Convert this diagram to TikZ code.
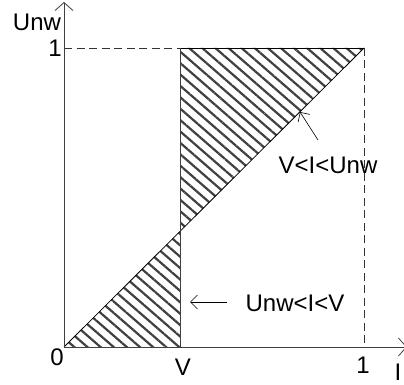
\documentclass[tikz,border=0pt]{standalone}
\usepackage{fontspec}
\setmainfont{Liberation Sans}
\usetikzlibrary{arrows.meta,patterns.meta}
\begin{document}
\begin{tikzpicture}[x=1pt,y=1pt,
  axis/.style={line width=0.8pt,draw=black!75},
  dashline/.style={line width=0.8pt,draw=black!80,dash pattern=on 8pt off 4.5pt},
  hatch/.style={pattern={Lines[angle=-41,distance=8.6pt,line width=2.2pt]},pattern color=black!75},
  lbl/.style={font=\fontsize{24}{28}\selectfont,inner sep=0pt},
  tip/.style={-{Straight Barb[length=7pt,width=14pt]}},
  axtip/.style={-{Straight Barb[length=8pt,width=18pt]}}]
\useasboundingbox (0,0) rectangle (404,385);
% key points
\coordinate (O) at (64,38);
\coordinate (Ytop) at (64,383);
\coordinate (Xend) at (407,38);
\coordinate (P1) at (364,337);
\coordinate (Y1) at (64,337);
\coordinate (X1) at (364,38);
\coordinate (Vb) at (180,38);
\coordinate (Vm) at (180,153.6);
\coordinate (Vt) at (180,337);
% hatched regions
\path[hatch] (O) -- (Vb) -- (Vm) -- cycle;
\path[hatch] (Vm) -- (Vt) -- (P1) -- cycle;
% dashed guides
\draw[dashline] (Y1) -- (Vt);
\draw[line width=0.8pt] (Vt) -- (P1);
\draw[dashline] (P1) -- (X1);
% solid lines
\draw[line width=0.8pt] (O) -- (P1);
\draw[axis] (Vb) -- (Vt);
% axes
\draw[axis,axtip] (O) -- (Ytop);
\draw[axis,axtip] (O) -- (Xend);
% labels
\node[lbl] (unw) at (37,363) {Unw};
\node[lbl,anchor=east] (one_y) at (62,337) {1};
\node[lbl] (zero) at (57,28) {0};
\node[lbl] (vlab) at (183,18) {V};
\node[lbl] (one_x) at (363,20) {1};
\node[lbl] (ilab) at (398,13) {I};
\node[lbl] (upper) at (328,220) {V<I<Unw};
\node[lbl] (lower) at (295,82) {Unw<I<V};
% pointer arrows
\coordinate (a1s) at (318,245);
\coordinate (a1e) at (300,273);
\draw[line width=0.6pt,tip] (a1s) -- (a1e);
\coordinate (a2s) at (227,83);
\coordinate (a2e) at (190,83);
\draw[line width=0.6pt,tip] (a2s) -- (a2e);
\end{tikzpicture}
\end{document}
